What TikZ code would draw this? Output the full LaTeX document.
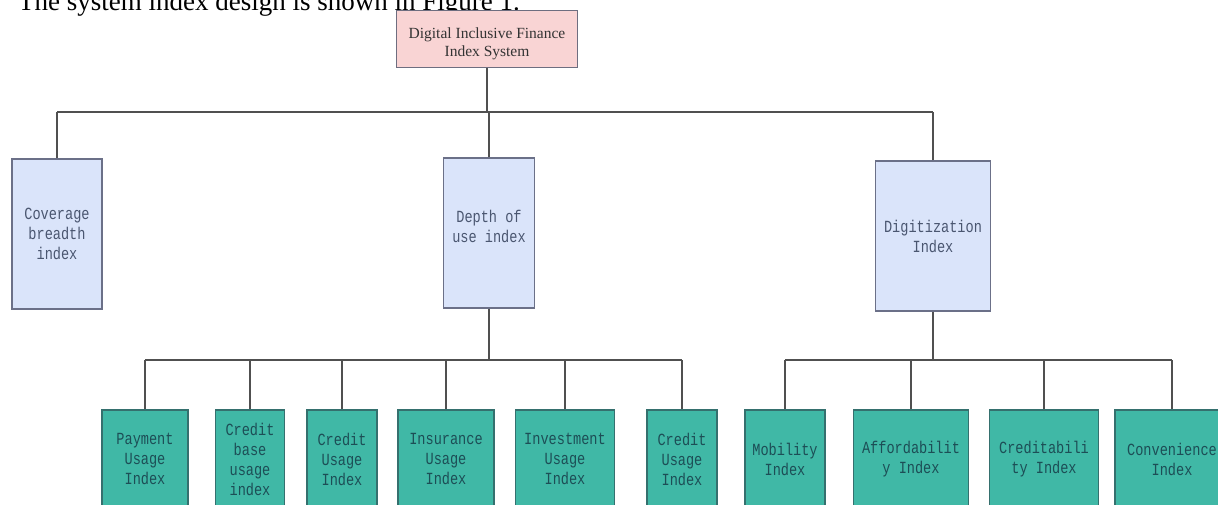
\documentclass[tikz,border=0pt]{standalone}
\usepackage{fontspec}
\setmainfont{Liberation Serif}
\newfontfamily\boxmono[FakeStretch=0.8]{Liberation Mono}

\definecolor{linegray}{HTML}{505050}
\definecolor{rootfill}{HTML}{F9D4D4}
\definecolor{rootedge}{HTML}{6E6E80}
\definecolor{midfill}{HTML}{DAE4FA}
\definecolor{midedge}{HTML}{6B7088}
\definecolor{midtext}{HTML}{4A5670}
\definecolor{leaffill}{HTML}{40B8A6}
\definecolor{leafedge}{HTML}{35706E}
\definecolor{leaftext}{HTML}{1D4E56}

\tikzset{
  conn/.style={draw=linegray, line width=1.3pt},
  rootbox/.style={rectangle, draw=rootedge, fill=rootfill, line width=1.3pt,
    inner sep=0pt, align=center, text=black!80,
    font=\fontsize{15.5}{18}\selectfont},
  midbox/.style={rectangle, draw=midedge, fill=midfill, line width=1.3pt,
    inner sep=0pt, align=center, minimum height=150pt, text=midtext,
    font=\boxmono\fontsize{17}{20}\selectfont},
  leafbox/.style={rectangle, draw=leafedge, fill=leaffill, line width=1.3pt,
    inner sep=0pt, align=center, minimum height=98pt, text=leaftext,
    font=\boxmono\fontsize{17}{20}\selectfont},
}

\begin{document}
\begin{tikzpicture}[x=1pt, y=-1pt]
  \useasboundingbox (0,0) rectangle (1218,504);
  \clip (0,0) rectangle (1218,504);

  % sentence above the figure
  \node[anchor=base west, inner sep=0pt, font=\fontsize{27}{30}\selectfont]
    (caption) at (18,10) {The system index design is shown in Figure 1.};

  % root
  \node[rootbox, minimum width=181pt, minimum height=57pt] (root) at (487,39)
    {\rule{0pt}{21pt}Digital Inclusive Finance\\Index System};

  % second level
  \node[midbox, minimum width=90pt]  (cov) at (57,234)  {Coverage\\breadth\\index};
  \node[midbox, minimum width=91pt]  (dep) at (489,233) {Depth of\\use index\\[-6pt]};
  \node[midbox, minimum width=115pt] (dig) at (933,236) {Digitization\\Index};

  % third level
  \node[leafbox, minimum width=86pt]  (pay)  at (145,459)  {Payment\\Usage\\Index};
  \node[leafbox, minimum width=69pt]  (cbu)  at (250,459)  {Credit\\base\\usage\\index};
  \node[leafbox, minimum width=70pt]  (cre1) at (342,459)  {Credit\\Usage\\Index};
  \node[leafbox, minimum width=96pt]  (ins)  at (446,459)  {Insurance\\Usage\\Index};
  \node[leafbox, minimum width=99pt]  (inv)  at (565,459)  {Investment\\Usage\\Index};
  \node[leafbox, minimum width=70pt]  (cre2) at (682,459)  {Credit\\Usage\\Index};
  \node[leafbox, minimum width=80pt]  (mob)  at (785,459)  {Mobility\\Index};
  \node[leafbox, minimum width=115pt] (aff)  at (911,459)  {Affordabilit\\y Index};
  \node[leafbox, minimum width=109pt] (crd)  at (1044,459) {Creditabili\\ty Index};
  \node[leafbox, minimum width=114pt] (con)  at (1172,459) {Convenience\\Index};

  % bus levels
  \coordinate (busA) at (0,112);
  \coordinate (busB) at (0,360);

  % root to second level
  \draw[conn] (root.south) -- (root.south |- busA);
  \draw[conn] (cov.north |- busA) -- (dig.north |- busA);
  \foreach \n in {cov,dep,dig}
    \draw[conn] (\n.north) -- (\n.north |- busA);

  % depth of use to its children
  \draw[conn] (dep.south) -- (dep.south |- busB);
  \draw[conn] (pay.north |- busB) -- (cre2.north |- busB);
  \foreach \n in {pay,cbu,cre1,ins,inv,cre2}
    \draw[conn] (\n.north) -- (\n.north |- busB);

  % digitization to its children
  \draw[conn] (dig.south) -- (dig.south |- busB);
  \draw[conn] (mob.north |- busB) -- (con.north |- busB);
  \foreach \n in {mob,aff,crd,con}
    \draw[conn] (\n.north) -- (\n.north |- busB);
\end{tikzpicture}
\end{document}
